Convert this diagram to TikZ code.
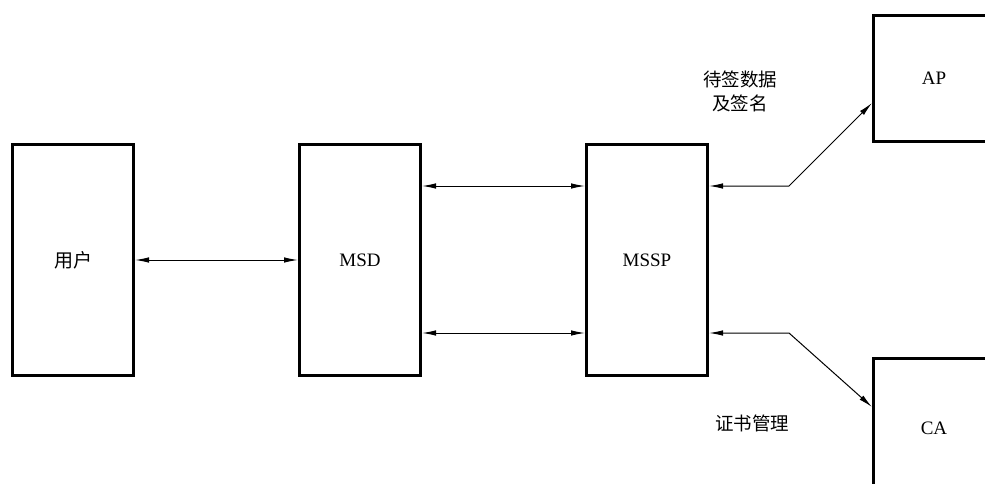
\documentclass[tikz,border=0pt]{standalone}
\usepackage{fontspec}
\setmainfont{Liberation Serif}
\newfontfamily\cjk{Noto Sans CJK SC}
\usetikzlibrary{positioning,arrows.meta,calc}

\begin{document}
\begin{tikzpicture}[
  x=1pt, y=-1pt, font=\fontsize{19}{24}\selectfont, >={Latex[length=14pt,width=5.5pt]},
  blk/.style={draw, line width=3pt, minimum width=121pt, inner sep=0pt, align=center},
  link/.style={<->, line width=1pt},
  note/.style={font=\cjk\fontsize{18.5}{24}\selectfont, align=center},
]
\useasboundingbox (0,0) rectangle (985,484);
% ---- main chain ----
\node[blk, minimum height=231pt] (user) at (73,260) {\cjk 用户};
\node[blk, minimum height=231pt] (msd)  at (360,260) {MSD};
\node[blk, minimum height=231pt] (mssp) at (647,260) {MSSP};
% ---- side boxes (cut by the page edge) ----
\node[blk, minimum height=126pt] (ap) at (934,78.5) {AP};
\node[blk, minimum height=140pt] (ca) at (934,428) {CA};
% ---- connectors ----
\draw[link] (user.east) -- (msd.west);
\draw[link] ([yshift=74pt]msd.east) -- ([yshift=74pt]mssp.west);
\draw[link] ([yshift=-73pt]msd.east) -- ([yshift=-73pt]mssp.west);
\coordinate (apin) at ([yshift=-24.5pt]ap.west);
\coordinate (cain) at ([yshift=21pt]ca.west);
\draw[link] ([yshift=74pt]mssp.east) -- ++(80,0) -- (apin);
\draw[link] ([yshift=-73pt]mssp.east) -- ++(80,0) -- (cain);
% ---- labels ----
\node[note] (sig) at (740,91) {待签数据\\及签名};
\node[note] (cert) at (752,423) {证书管理};
\end{tikzpicture}
\end{document}
